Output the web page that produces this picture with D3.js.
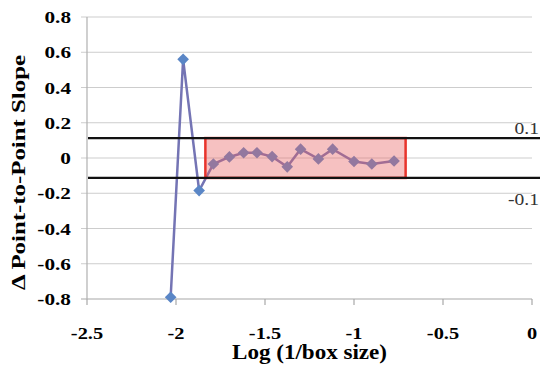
<!DOCTYPE html>
<html>
<head>
<meta charset="utf-8">
<script src="https://cdn.jsdelivr.net/npm/d3@7"></script>
<style>
  body { margin: 0; background: #fff; }
  svg { display: block; }
</style>
</head>
<body>
<div class="chart"></div>
<script>
var width = 540,
    height = 371;

// series
var logSize = [-2.03, -1.96, -1.87, -1.79, -1.70, -1.62, -1.545, -1.46, -1.375, -1.30, -1.20, -1.12, -1.00, -0.90, -0.775];
var slope = [-0.79, 0.56, -0.185, -0.034, 0.006, 0.03, 0.03, 0.008, -0.05, 0.05, -0.005, 0.05, -0.02, -0.034, -0.017];

var xTicks = [-2.5, -2, -1.5, -1, -0.5, 0];
var yTicks = [0.8, 0.6, 0.4, 0.2, 0, -0.2, -0.4, -0.6, -0.8];

var limits = [0.113, -0.113];
var limitLabels = ["0.1", "-0.1"];
var boxRange = [-1.835, -0.71];

var x = d3.scaleLinear().domain([-2.5, 0]).range([87, 532]);
var y = d3.scaleLinear().domain([-0.8, 0.8]).range([299, 17]);

var svg = d3.select(".chart")
    .append("svg")
    .attr("width", width)
    .attr("height", height);

var serif = "Liberation Serif, Times New Roman, serif";
var fmt = d => String(d);  // plain hyphen minus like the original

// horizontal gridlines
svg.append("g")
    .selectAll("line")
    .data(yTicks)
    .join("line")
    .attr("x1", 81)
    .attr("x2", x(0))
    .attr("y1", d => y(d))
    .attr("y2", d => y(d))
    .attr("stroke", d => d === -0.8 ? "#a8a8a8" : "#cdcdcd")
    .attr("stroke-width", 1.2);

// y axis line
svg.append("line")
    .attr("x1", x(-2.5)).attr("x2", x(-2.5))
    .attr("y1", y(0.8)).attr("y2", y(-0.8))
    .attr("stroke", "#b0b0b0")
    .attr("stroke-width", 1.2);

// x ticks
svg.append("g")
    .selectAll("line")
    .data(xTicks)
    .join("line")
    .attr("x1", d => x(d)).attr("x2", d => x(d))
    .attr("y1", y(-0.8)).attr("y2", y(-0.8) + 6)
    .attr("stroke", "#a8a8a8")
    .attr("stroke-width", 1.2);

// tick labels (the original type is a bit wide, so stretch it a little)
svg.append("g")
    .selectAll("text")
    .data(yTicks)
    .join("text")
    .attr("transform", d => `translate(71, ${y(d) + 6}) scale(1.25, 1)`)
    .attr("text-anchor", "end")
    .attr("font-family", serif)
    .attr("font-size", 17)
    .attr("font-weight", "bold")
    .text(fmt);

svg.append("g")
    .selectAll("text")
    .data(xTicks)
    .join("text")
    .attr("transform", d => `translate(${x(d)}, 339) scale(1.2, 1)`)
    .attr("text-anchor", "middle")
    .attr("font-family", serif)
    .attr("font-size", 17)
    .attr("font-weight", "bold")
    .text(fmt);

// series
var line = d3.line()
    .x((d, i) => x(logSize[i]))
    .y(d => y(d));

svg.append("path")
    .datum(slope)
    .attr("d", line)
    .attr("fill", "none")
    .attr("stroke", "#7474b4")
    .attr("stroke-width", 2.5);

// square diamonds, like the spreadsheet markers
svg.append("g")
    .selectAll("path")
    .data(slope)
    .join("path")
    .attr("transform", (d, i) => `translate(${x(logSize[i])}, ${y(d)}) rotate(45)`)
    .attr("d", d3.symbol().type(d3.symbolSquare).size(68))
    .attr("fill", "#5a86c6");

// shaded box
svg.append("rect")
    .attr("x", x(boxRange[0]))
    .attr("y", y(limits[0]))
    .attr("width", x(boxRange[1]) - x(boxRange[0]))
    .attr("height", y(limits[1]) - y(limits[0]))
    .attr("fill", "rgba(232, 100, 100, 0.4)")
    .attr("stroke", "#e8342c")
    .attr("stroke-width", 2.5);

// limit lines
svg.append("g")
    .selectAll("line")
    .data(limits)
    .join("line")
    .attr("x1", 88)
    .attr("x2", width)
    .attr("y1", d => y(d))
    .attr("y2", d => y(d))
    .attr("stroke", "#111")
    .attr("stroke-width", 2.2);

svg.append("g")
    .selectAll("text")
    .data(limits)
    .join("text")
    .attr("transform", (d, i) => `translate(${width - 1}, ${i === 0 ? y(d) - 4 : y(d) + 27}) scale(1.15, 1)`)
    .attr("text-anchor", "end")
    .attr("font-family", serif)
    .attr("font-size", 17)
    .attr("fill", "#333")
    .text((d, i) => limitLabels[i]);

// axis titles
svg.append("text")
    .attr("x", 232)
    .attr("y", 359)
    .attr("textLength", 155)
    .attr("lengthAdjust", "spacingAndGlyphs")
    .attr("font-family", serif)
    .attr("font-size", 20)
    .attr("font-weight", "bold")
    .text("Log (1/box size)");

svg.append("text")
    .attr("transform", "translate(25, 290) rotate(-90)")
    .attr("textLength", 235)
    .attr("lengthAdjust", "spacingAndGlyphs")
    .attr("font-family", serif)
    .attr("font-size", 19)
    .attr("font-weight", "bold")
    .text("Δ Point-to-Point Slope");
</script>
</body>
</html>
